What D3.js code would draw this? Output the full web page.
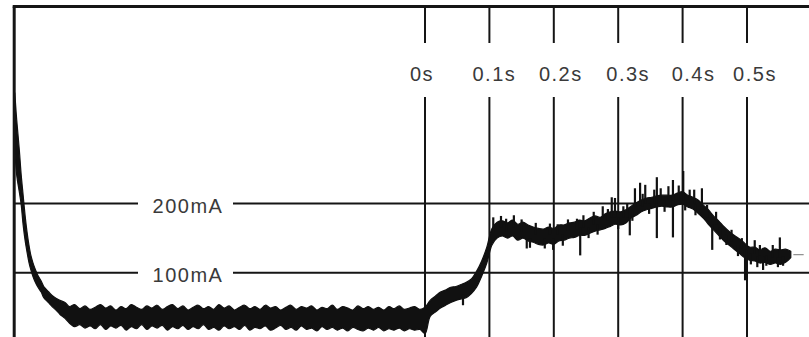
<!DOCTYPE html>
<html>
<head>
<meta charset="utf-8">
<script src="https://cdn.jsdelivr.net/npm/d3@7"></script>
<style>
  html, body { margin: 0; padding: 0; background: #fff; }
  svg { display: block; }
  text { font-family: "Liberation Sans", "DejaVu Sans", sans-serif; font-size: 20px; fill: #3a3a3a; letter-spacing: 1.5px; }
</style>
</head>
<body>
<svg id="chart" width="809" height="337"></svg>
<script>
// Time markers after the switching instant (seconds)
const xTicks = [0, 0.1, 0.2, 0.3, 0.4, 0.5];
const xTickLabels = ["0s", "0.1s", "0.2s", "0.3s", "0.4s", "0.5s"];

// Current reference levels (mA)
const yTicks = [100, 200];
const yTickLabels = ["100mA", "200mA"];

// Recorded current trace as a min/max envelope: [time ms, upper mA, lower mA]
const traceEnvelope = [
  [-637, 360, 278], [-634, 321, 241], [-630, 278, 217], [-627, 241, 198],
  [-624, 212, 169], [-621, 183, 147], [-618, 159, 130], [-615, 140, 115],
  [-612, 125, 104], [-609, 115, 95], [-606, 107, 88], [-601, 96, 79],
  [-596, 88, 72], [-592, 80, 64], [-585, 73, 57], [-579, 67, 51],
  [-573, 63, 46], [-567, 60, 40], [-559, 57, 34],
  [-552, 51, 27], [-544, 54, 22], [-536, 48, 25], [-528, 52, 20],
  [-520, 47, 23], [-512, 50, 19], [-504, 54, 25], [-496, 49, 18],
  [-488, 52, 23], [-480, 46, 20], [-472, 51, 24], [-464, 48, 17],
  [-456, 54, 22], [-448, 50, 19], [-440, 47, 25], [-432, 52, 18],
  [-424, 49, 23], [-416, 53, 20], [-408, 47, 24], [-400, 51, 17],
  [-392, 54, 22], [-384, 48, 19], [-376, 52, 24], [-368, 46, 18],
  [-360, 50, 22], [-352, 53, 19], [-344, 48, 25], [-336, 51, 18],
  [-328, 47, 21], [-320, 54, 17], [-312, 49, 23], [-304, 52, 19],
  [-296, 46, 22], [-288, 50, 18], [-280, 53, 24], [-272, 48, 17],
  [-264, 51, 21], [-256, 47, 19], [-248, 53, 23], [-240, 49, 17],
  [-232, 51, 20], [-224, 46, 24], [-216, 50, 18], [-208, 53, 21],
  [-200, 47, 17], [-192, 51, 23], [-184, 49, 18], [-176, 52, 20],
  [-168, 46, 16], [-160, 50, 22], [-152, 48, 18], [-144, 53, 21],
  [-136, 47, 17], [-128, 51, 20], [-120, 49, 16], [-112, 46, 21],
  [-104, 52, 18], [-96, 48, 16], [-88, 51, 20], [-80, 47, 17],
  [-72, 50, 21], [-64, 46, 16], [-56, 51, 19], [-48, 48, 17],
  [-40, 52, 20], [-32, 47, 16], [-24, 49, 19], [-16, 51, 17],
  [-8, 47, 18], [0, 50, 12],
  [8, 60, 37], [16, 66, 43], [24, 72, 49], [32, 75, 53],
  [40, 79, 57], [48, 80, 60], [56, 83, 62], [64, 86, 64],
  [72, 91, 70], [80, 102, 79], [88, 117, 95], [96, 137, 114],
  [104, 164, 140], [112, 173, 150], [120, 175, 153], [128, 172, 150],
  [136, 176, 153], [144, 170, 147], [152, 173, 150], [160, 169, 146],
  [168, 166, 144], [176, 164, 141], [184, 163, 140], [192, 166, 143],
  [200, 164, 141], [208, 169, 146], [216, 169, 147], [224, 172, 150],
  [232, 173, 151], [240, 176, 154], [248, 175, 154], [256, 179, 157],
  [264, 182, 160], [272, 180, 162], [280, 185, 164], [288, 188, 167],
  [296, 189, 170], [304, 188, 169], [312, 191, 172], [320, 196, 179],
  [328, 201, 183], [336, 205, 188], [344, 208, 191], [352, 209, 193],
  [360, 211, 195], [368, 212, 196], [376, 212, 195], [384, 212, 195],
  [392, 215, 198], [400, 217, 199], [408, 212, 195], [416, 209, 192],
  [424, 205, 186], [432, 198, 179], [440, 191, 170], [448, 182, 162],
  [456, 175, 154], [464, 167, 146], [472, 160, 140], [480, 154, 134],
  [488, 149, 128], [496, 143, 122], [504, 137, 118], [512, 137, 117],
  [520, 133, 114], [528, 136, 115], [536, 131, 112], [544, 134, 114],
  [552, 133, 112], [560, 134, 115], [568, 131, 122]
];

// Short transients on the trace: [time ms, from mA, to mA]
const spikes = [
  [59, 68, 53], [163, 150, 136], [199, 150, 133], [241, 165, 125],
  [276, 180, 196], [290, 180, 209], [295, 180, 208], [318, 185, 154],
  [326, 195, 222], [334, 197, 230], [342, 200, 227], [360, 200, 238],
  [360, 200, 150], [385, 204, 234], [385, 204, 151], [401, 205, 247],
  [411, 205, 220], [430, 195, 222], [446, 170, 133], [497, 133, 89],
  [499, 133, 92], [512, 127, 147], [516, 124, 108], [525, 124, 104],
  [548, 122, 108], [551, 122, 151],
  [106, 160, 180], [118, 165, 182], [126, 160, 178], [138, 165, 183],
  [150, 160, 177], [158, 150, 135], [172, 155, 172], [186, 150, 135],
  [194, 155, 171], [206, 155, 170], [214, 155, 139], [222, 160, 177],
  [236, 162, 178], [246, 165, 183], [254, 165, 150], [262, 170, 188],
  [268, 170, 155], [284, 175, 192], [300, 180, 163], [308, 180, 196],
  [314, 180, 200], [322, 190, 175], [338, 195, 214], [348, 200, 185],
  [356, 200, 220], [366, 205, 222], [372, 205, 188], [378, 205, 225],
  [394, 205, 226], [404, 205, 190], [418, 200, 220], [420, 198, 183],
  [438, 180, 198], [452, 170, 188], [458, 165, 148], [468, 155, 140],
  [476, 145, 162], [486, 140, 124], [492, 135, 150], [506, 128, 112],
  [520, 125, 140], [530, 125, 110], [540, 122, 140], [556, 124, 110]
];

// Faint trailing segment after the trace ends
const tailSegment = [[572, 126], [588, 126]];

const svg = d3.select("#chart");
const W = 809, H = 337;

const x = d3.scaleLinear().domain([0, 0.5]).range([425, 747]);
const y = d3.scaleLinear().domain([100, 200]).range([272.7, 203.5]);

const frameLeft = 14.2, frameTop = 6.5;
const ink = "#151515";

// Horizontal reference lines, broken around their labels
const yLabelCenter = 188;
const yGapLeft = 138, yGapRight = 233;
yTicks.forEach((v, i) => {
  const yy = y(v);
  svg.append("line").attr("x1", frameLeft).attr("x2", yGapLeft)
    .attr("y1", yy).attr("y2", yy).attr("stroke", ink).attr("stroke-width", 2);
  svg.append("line").attr("x1", yGapRight).attr("x2", W)
    .attr("y1", yy).attr("y2", yy).attr("stroke", ink).attr("stroke-width", 2);
  svg.append("text").attr("x", yLabelCenter).attr("y", yy + 9.5)
    .attr("text-anchor", "middle").text(yTickLabels[i]);
});

// Vertical time markers, broken around their labels
const labelNudge = [-3, 5, 7, 10, 11, 8];
const vGapTop = 43, vGapBottom = 97, xLabelBaseline = 81;
xTicks.forEach((t, i) => {
  const xx = x(t);
  svg.append("line").attr("x1", xx).attr("x2", xx)
    .attr("y1", frameTop).attr("y2", vGapTop).attr("stroke", ink).attr("stroke-width", 2);
  svg.append("line").attr("x1", xx).attr("x2", xx)
    .attr("y1", vGapBottom).attr("y2", H).attr("stroke", ink).attr("stroke-width", 2);
  svg.append("text").attr("x", xx + labelNudge[i]).attr("y", xLabelBaseline)
    .attr("text-anchor", "middle").text(xTickLabels[i]);
});

// Trace envelope
const area = d3.area()
  .x(d => x(d[0] / 1000))
  .y0(d => y(d[2]))
  .y1(d => y(d[1]))
  .curve(d3.curveCatmullRom.alpha(0.5));

svg.append("path")
  .datum(traceEnvelope)
  .attr("d", area)
  .attr("fill", "#111")
  .attr("stroke", "#111")
  .attr("stroke-width", 1.2)
  .attr("stroke-linejoin", "round");

// Transient spikes
svg.selectAll("line.spike")
  .data(spikes)
  .join("line")
  .attr("class", "spike")
  .attr("x1", d => x(d[0] / 1000)).attr("x2", d => x(d[0] / 1000))
  .attr("y1", d => y(d[1])).attr("y2", d => y(d[2]))
  .attr("stroke", "#111").attr("stroke-width", 2.2);

// Tail
svg.append("path")
  .datum(tailSegment)
  .attr("d", d3.line().x(d => x(d[0] / 1000)).y(d => y(d[1])))
  .attr("stroke", "#777").attr("stroke-width", 1).attr("fill", "none");

// Frame: top and left edges
svg.append("line").attr("x1", frameLeft - 1.5).attr("x2", W)
  .attr("y1", frameTop).attr("y2", frameTop).attr("stroke", ink).attr("stroke-width", 3);
svg.append("line").attr("x1", frameLeft).attr("x2", frameLeft)
  .attr("y1", frameTop).attr("y2", H).attr("stroke", ink).attr("stroke-width", 3);
</script>
</body>
</html>
